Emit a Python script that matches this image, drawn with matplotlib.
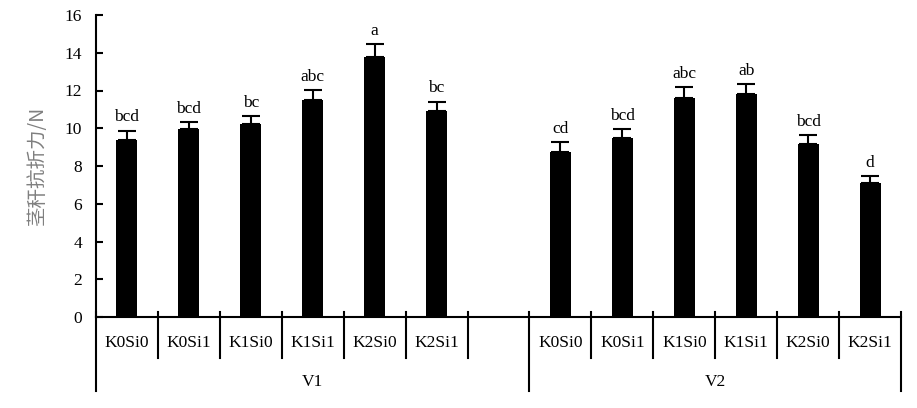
import numpy as np
import matplotlib
matplotlib.use("Agg")
import matplotlib.pyplot as plt

# dados
tratamentos = ["K0Si0", "K0Si1", "K1Si0", "K1Si1", "K2Si0", "K2Si1"]
grupos = ["V1", "V2"]
media_v1 = [9.39, 9.94, 10.24, 11.51, 13.79, 10.93]
erro_v1 = [0.49, 0.38, 0.40, 0.51, 0.67, 0.46]
letras_v1 = ["bcd", "bcd", "bc", "abc", "a", "bc"]
media_v2 = [8.75, 9.50, 11.62, 11.83, 9.18, 7.11]
erro_v2 = [0.51, 0.44, 0.55, 0.49, 0.44, 0.35]
letras_v2 = ["cd", "bcd", "abc", "ab", "bcd", "d"]
y_ticks = [0, 2, 4, 6, 8, 10, 12, 14, 16]

plt.rcParams["font.family"] = ["Liberation Serif", "DejaVu Serif"]
plt.rcParams["font.size"] = 12.5

fig = plt.figure(figsize=(9.17, 4.08), dpi=100)
ax = fig.add_axes([96 / 917, 1 - 317 / 408, 805 / 917, 302 / 408])

n = len(tratamentos)
x1 = np.arange(n)
x2 = np.arange(n) + n + 1
lw = 1.5

for xs, med, err, let in [(x1, media_v1, erro_v1, letras_v1),
                          (x2, media_v2, erro_v2, letras_v2)]:
    ax.bar(xs, med, width=0.34, color="black", zorder=2)
    ax.errorbar(xs, med, yerr=[np.zeros(n), err], fmt="none", ecolor="black",
                elinewidth=lw, capsize=6.5, capthick=lw, zorder=3)
    for x, m, e, t in zip(xs, med, err, let):
        ax.annotate(t, (x, m + e), xytext=(0, 4), textcoords="offset points",
                    ha="center", va="bottom")

total = 2 * n + 1
ax.set_xlim(-0.5, total - 0.5)
ax.set_ylim(0, 16)
ax.set_yticks(y_ticks)
ax.tick_params(axis="y", direction="in", length=5, width=lw, pad=10)
ax.set_xticks([])
for s in ["top", "right"]:
    ax.spines[s].set_visible(False)
ax.spines["left"].set_linewidth(lw)
ax.spines["bottom"].set_linewidth(lw)

ax.set_ylabel("茎秆抗折力/N", color="#7f7f7f", fontsize=14,
              family=["Noto Sans CJK SC", "DejaVu Sans"], labelpad=12)

# eixo x hierarquico
tr = ax.get_xaxis_transform()
longas = [-0.5, n + 0.5, total - 0.5]
for b in np.arange(total + 1) - 0.5:
    if b in longas:
        ax.plot([b, b], [0.0166, -0.245], color="black", lw=lw,
                transform=tr, clip_on=False)
    else:
        ax.plot([b, b], [0.0166, -0.136], color="black", lw=lw,
                transform=tr, clip_on=False)

for xs in (x1, x2):
    for x, t in zip(xs, tratamentos):
        ax.text(x, -0.086, t, transform=tr, ha="center", va="center")

ax.text((-0.5 + n + 0.5) / 2, -0.215, grupos[0], transform=tr,
        ha="center", va="center")
ax.text((n + 0.5 + total - 0.5) / 2, -0.215, grupos[1], transform=tr,
        ha="center", va="center")

fig.savefig("out.png", dpi=100)
